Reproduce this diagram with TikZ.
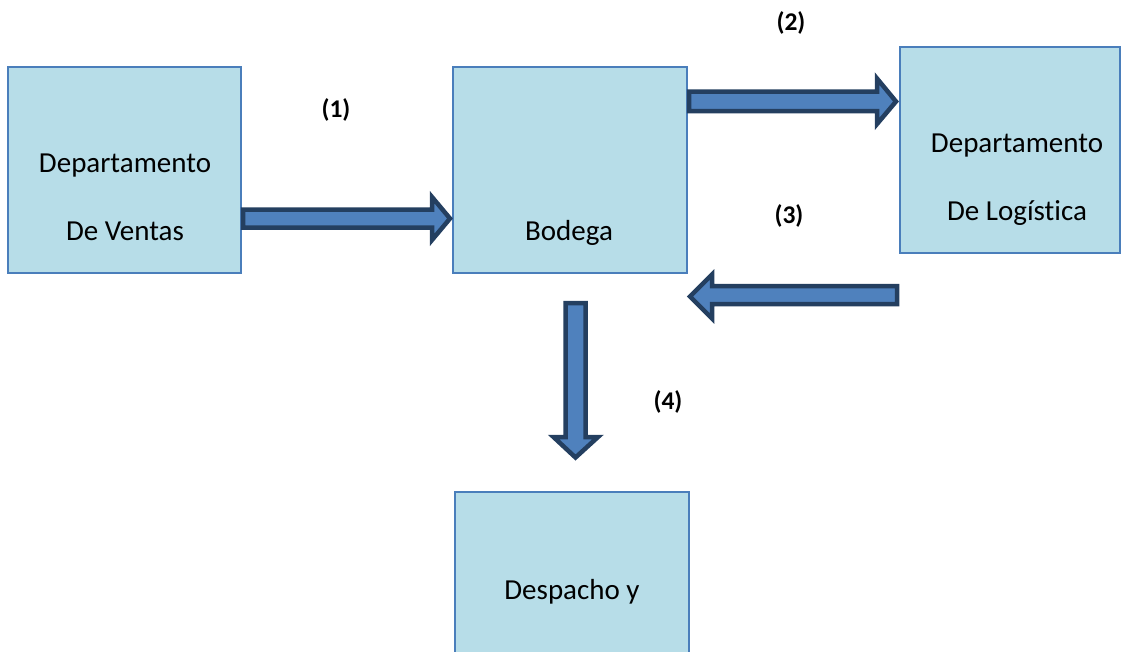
\documentclass[tikz,border=0pt]{standalone}
\usepackage{fontspec}
\setmainfont{Carlito}[Ligatures=NoCommon]
\definecolor{boxfill}{HTML}{B7DDE8}
\definecolor{boxline}{HTML}{4A7EBB}
\definecolor{arrfill}{HTML}{4F81BD}
\definecolor{arrline}{HTML}{243F60}
\begin{document}
\begin{tikzpicture}[x=1pt,y=-1pt,
  box/.style={draw=boxline,fill=boxfill,line width=1.2pt,anchor=north west,
    minimum width=#1,minimum height=206,inner sep=0pt,outer sep=0pt},
  boxtext/.style={anchor=base,inner sep=0pt,font=\fontsize{29}{35}\selectfont},
  steplabel/.style={anchor=base,inner sep=0pt,font=\bfseries\fontsize{25.5}{30}\selectfont},
  blockarrow/.style={draw=arrline,fill=arrfill,line width=4.5pt,line join=miter}]
\useasboundingbox (0,0) rectangle (1123,651);
\clip (0,0) rectangle (1123,651);

% boxes
\node[box=233] (ventas) at (8,67) {};
\node[box=234] (bodega) at (453,67) {};
\node[box=220] (logistica) at (900,47) {};
\node[box=234] (despacho) at (455,492) {};

% box texts
\node[boxtext] (t1a) at (125,172) {Departamento};
\node[boxtext] (t1b) at (125,240) {De Ventas};
\node[boxtext] (t2) at (569,240) {Bodega};
\node[boxtext] (t3a) at (1017,152) {Departamento};
\node[boxtext] (t3b) at (1017,220) {De Logística};
\node[boxtext] (t4) at (572,599) {Despacho y};

% step labels
\node[steplabel] (l1) at (336,117) {(1)};
\node[steplabel] (l2) at (791,30) {(2)};
\node[steplabel] (l3) at (789,223) {(3)};
\node[steplabel] (l4) at (668,409) {(4)};

% block arrows
% (1) Ventas -> Bodega
\draw[blockarrow] (243,209.5) -- (432,209.5) -- (432,197) -- (450,218.5)
  -- (432,240) -- (432,227.5) -- (243,227.5) -- cycle;
% (2) Bodega -> Logistica
\draw[blockarrow] (689,91.5) -- (877,91.5) -- (877,78.5) -- (896,101.5)
  -- (877,124) -- (877,111) -- (689,111) -- cycle;
% (3) Logistica -> Bodega
\draw[blockarrow] (897,286) -- (712,286) -- (712,274.5) -- (690,296.5)
  -- (712,318.5) -- (712,304) -- (897,304) -- cycle;
% (4) Bodega -> Despacho
\draw[blockarrow] (565.5,303) -- (565.5,437) -- (553.5,437) -- (575.5,457.5)
  -- (598,437) -- (585.5,437) -- (585.5,303) -- cycle;
\end{tikzpicture}
\end{document}
